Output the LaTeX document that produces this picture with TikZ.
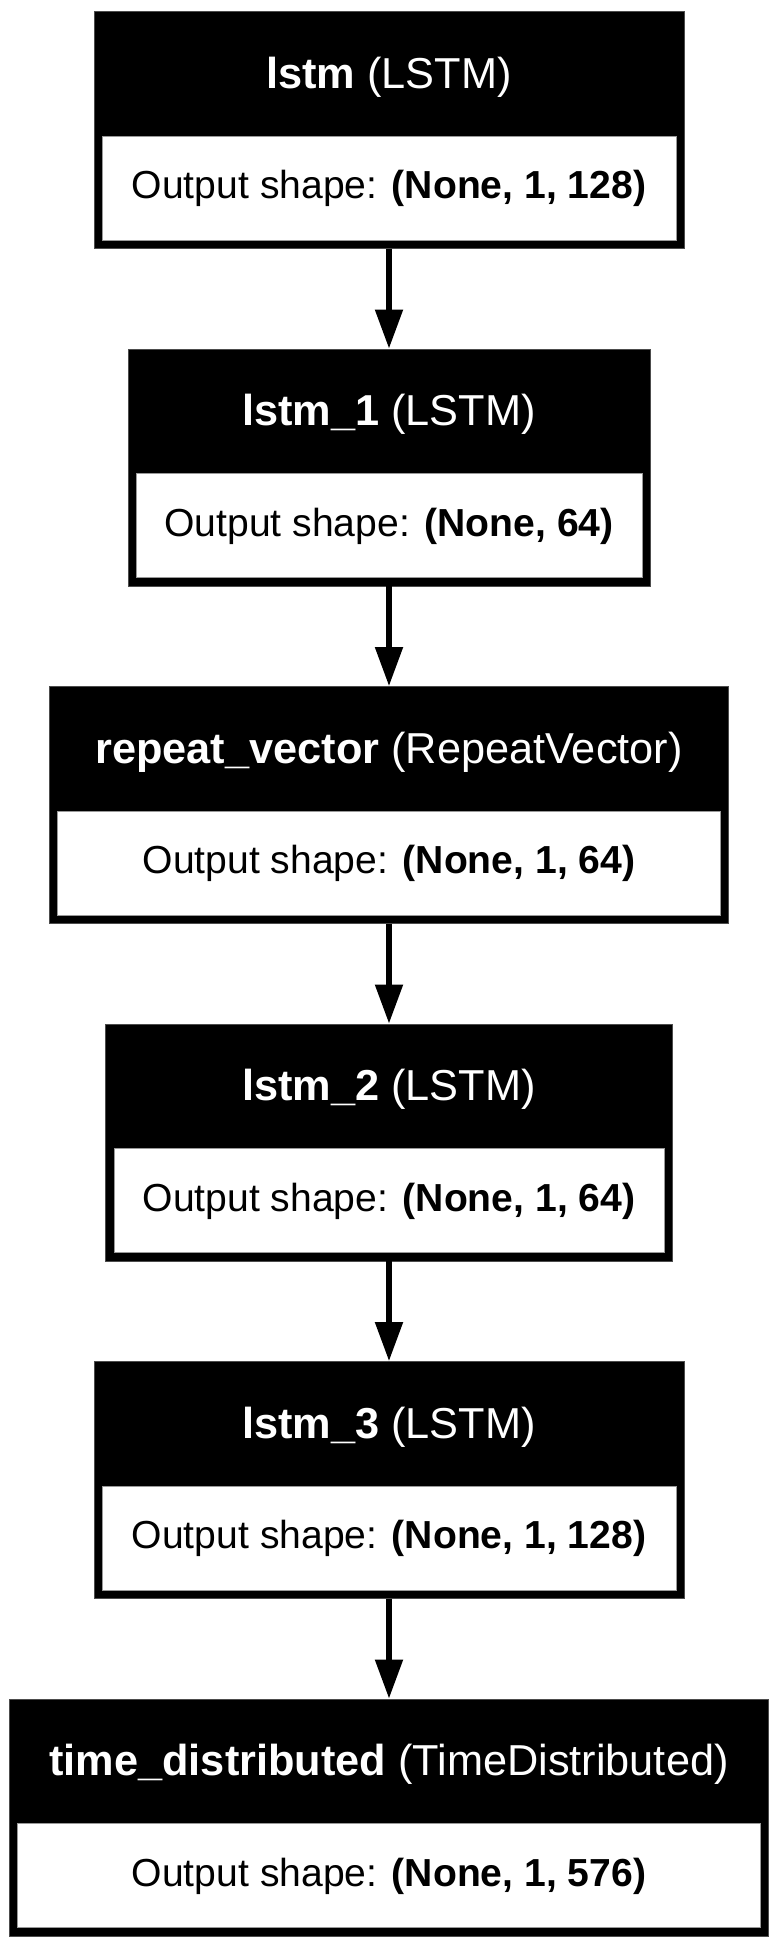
\documentclass[tikz,border=0pt]{standalone}
\usepackage{fontspec}
\setmainfont{Liberation Sans}
\usetikzlibrary{arrows.meta}
\tikzset{
  outerbox/.style={fill=black, draw=black!70, line width=0.6pt, inner sep=0pt, minimum height=237pt, anchor=north},
  innerbox/.style={fill=white, draw=black!40, line width=0.4pt, inner sep=0pt, minimum height=104pt, anchor=south},
  titletext/.style={text=white, anchor=base, inner sep=0pt, font=\fontsize{43.3}{43.3}\selectfont},
  bodytext/.style={text=black, anchor=base, inner sep=0pt, font=\fontsize{39.1}{39.1}\selectfont},
  conn/.style={line width=5.3pt, -{Triangle[length=39pt,width=27pt]}}
}
\newcommand{\layerbox}[5]{% name, top y, half width, title, body
  \node[outerbox, minimum width=#3*2pt] (#1) at (389,#2) {};
  \node[innerbox, minimum width=#3*2pt-16pt] (#1in) at ([yshift=8.3pt]#1.south) {};
  \node[titletext] (#1title) at (389,#2+77) {#4};
  \node[bodytext] (#1body) at (389,#2+187.5) {#5};
}
\begin{document}
\begin{tikzpicture}[x=1pt,y=-1pt]
\useasboundingbox (0,0) rectangle (778,1947);
\layerbox{n1}{11}{295}{\textbf{lstm} (LSTM)}{Output shape: \textbf{(None, 1, 128)}}
\layerbox{n2}{348.5}{261}{\textbf{lstm\_1} (LSTM)}{Output shape: \textbf{(None, 64)}}
\layerbox{n3}{686}{339.5}{\textbf{repeat\_vector} (RepeatVector)}{Output shape: \textbf{(None, 1, 64)}}
\layerbox{n4}{1023.5}{283.3}{\textbf{lstm\_2} (LSTM)}{Output shape: \textbf{(None, 1, 64)}}
\layerbox{n5}{1361}{295}{\textbf{lstm\_3} (LSTM)}{Output shape: \textbf{(None, 1, 128)}}
\layerbox{n6}{1698.5}{379.5}{\textbf{time\_distributed} (TimeDistributed)}{Output shape: \textbf{(None, 1, 576)}}
\draw[conn] (n1.south) -- (n2.north);
\draw[conn] (n2.south) -- (n3.north);
\draw[conn] (n3.south) -- (n4.north);
\draw[conn] (n4.south) -- (n5.north);
\draw[conn] (n5.south) -- (n6.north);
\end{tikzpicture}
\end{document}
